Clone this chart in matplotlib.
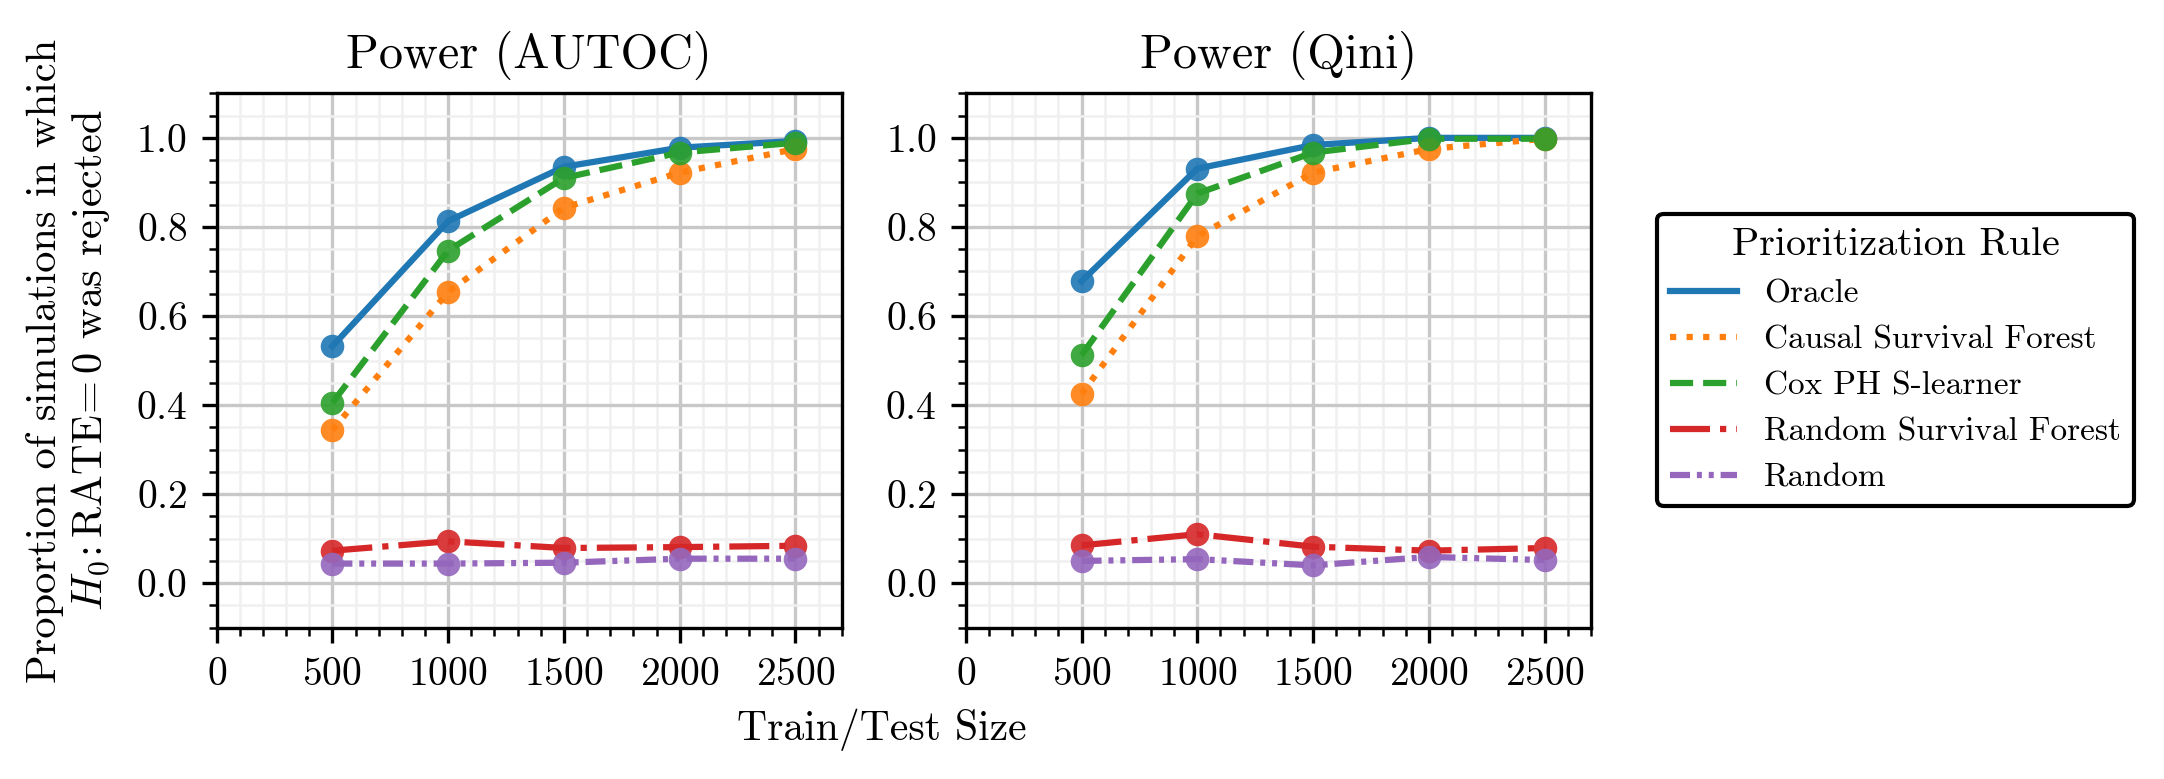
import numpy as np
import matplotlib
matplotlib.use("Agg")
import matplotlib.pyplot as plt
from matplotlib.ticker import MultipleLocator

# Style: LaTeX-like serif look
plt.rcParams.update({
    'font.family': ['cmr10', 'DejaVu Serif'],
    'mathtext.fontset': 'cm',
    'axes.formatter.use_mathtext': True,
    'axes.unicode_minus': False,
    'xtick.labelsize': 9.5,
    'ytick.labelsize': 9.5,
})

# Data
sizes = [500, 1000, 1500, 2000, 2500]
rules = ["Oracle", "Causal Survival Forest", "Cox PH S-learner",
         "Random Survival Forest", "Random"]

autoc_oracle = [0.532, 0.813, 0.935, 0.978, 0.993]
autoc_csf = [0.344, 0.654, 0.843, 0.922, 0.975]
autoc_cox = [0.405, 0.747, 0.910, 0.967, 0.989]
autoc_rsf = [0.073, 0.094, 0.079, 0.081, 0.084]
autoc_random = [0.044, 0.044, 0.046, 0.055, 0.055]

qini_oracle = [0.678, 0.931, 0.984, 1.000, 1.000]
qini_csf = [0.425, 0.779, 0.922, 0.975, 0.998]
qini_cox = [0.512, 0.875, 0.967, 0.998, 0.998]
qini_rsf = [0.085, 0.110, 0.082, 0.073, 0.079]
qini_random = [0.050, 0.054, 0.040, 0.059, 0.052]

colors = ['#1f77b4', '#ff7f0e', '#2ca02c', '#d62728', '#9467bd']
styles = ['-', ':', '--', '-.', (0, (3.2, 1.1, 0.8, 1.1, 0.8, 1.1))]

fig = plt.figure(figsize=(2164 / 300, 779 / 300), dpi=300)
ax1 = fig.add_axes([0.1001, 0.1942, 0.2889, 0.6860])
ax2 = fig.add_axes([0.4463, 0.1942, 0.2889, 0.6860])

panels = [
    (ax1, "Power (AUTOC)", [autoc_oracle, autoc_csf, autoc_cox, autoc_rsf, autoc_random]),
    (ax2, "Power (Qini)", [qini_oracle, qini_csf, qini_cox, qini_rsf, qini_random]),
]

for ax, title, series in panels:
    for vals, name, c, ls in zip(series, rules, colors, styles):
        ax.plot(sizes, vals, linestyle=ls, color=c, lw=1.5, label=name, zorder=3)
        ax.scatter(sizes, vals, s=32, color=c, alpha=0.9, zorder=4, linewidths=0)
    ax.set_xlim(0, 2700)
    ax.set_ylim(-0.1, 1.1)
    ax.xaxis.set_major_locator(MultipleLocator(500))
    ax.xaxis.set_minor_locator(MultipleLocator(100))
    ax.yaxis.set_major_locator(MultipleLocator(0.2))
    ax.yaxis.set_minor_locator(MultipleLocator(0.05))
    ax.grid(which='major', color='#c8c8c8', lw=0.8)
    ax.grid(which='minor', color='#f0f0f0', lw=0.6)
    ax.set_axisbelow(True)
    ax.set_title(title, fontsize=11.6, pad=6)

fig.text(0.0319, 0.537,
         "Proportion of simulations in which\n$H_0\\!:\\mathrm{RATE}\\!=0$ was rejected",
         rotation=90, ha='center', va='center', fontsize=10.2, multialignment='center',
         linespacing=1.15)
fig.text(0.4074, 0.050, "Train/Test Size", ha='center', va='baseline', fontsize=10.0)

handles, labels = ax1.get_legend_handles_labels()
leg = fig.legend(handles, labels, title="Prioritization Rule", loc='center left',
                 bbox_to_anchor=(0.7657, 0.538), borderaxespad=0, fontsize=8.0,
                 title_fontsize=9.6, framealpha=1, edgecolor='black')
leg.get_frame().set_linewidth(1.0)

fig.savefig("out.png", dpi=300)
